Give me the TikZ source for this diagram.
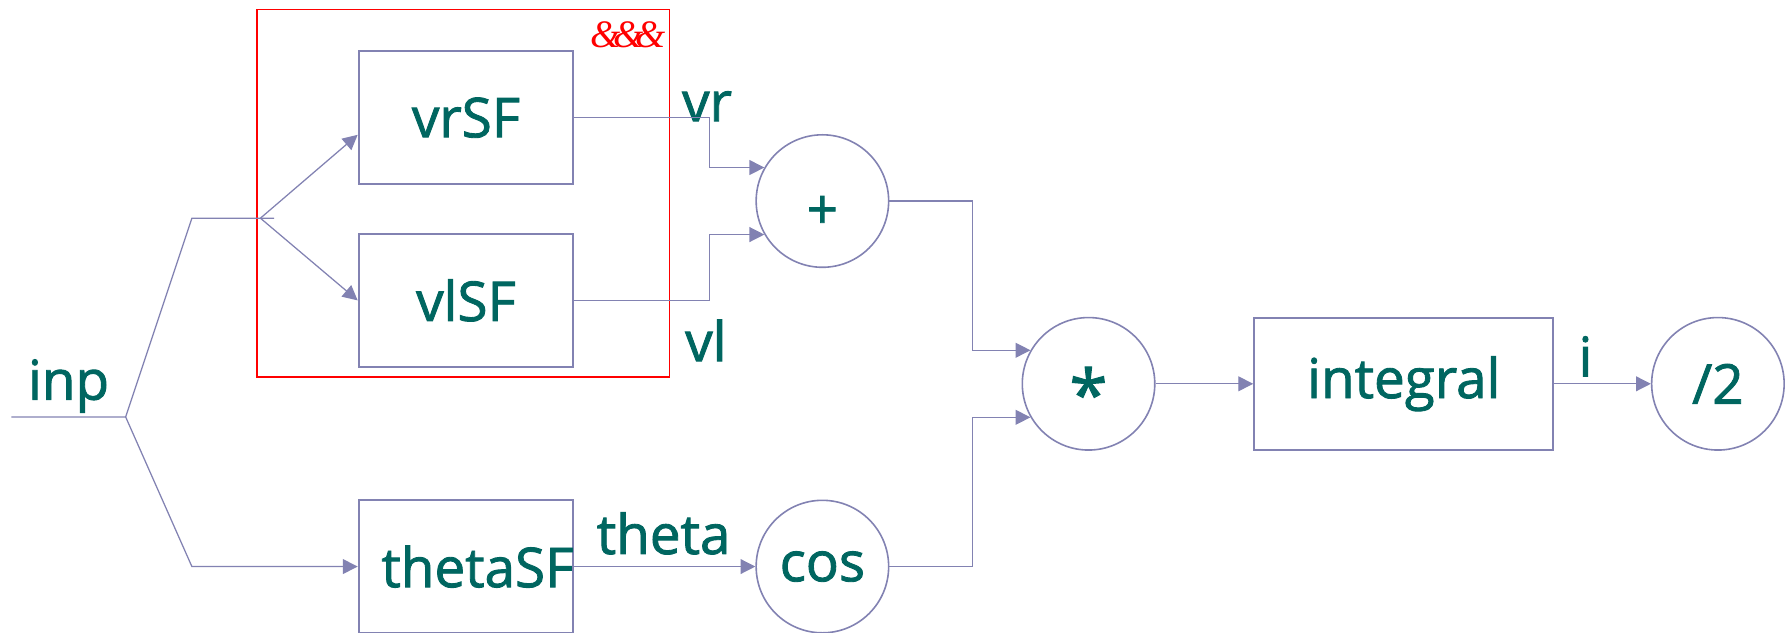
\documentclass[tikz,border=0pt]{standalone}
\usepackage{fontspec}
\setmainfont{Open Sans}[FakeBold=1.6]
\newfontfamily\ampfont{Liberation Serif}
\usetikzlibrary{arrows.meta,calc}
\definecolor{ln}{RGB}{130,130,178}
\definecolor{tx}{RGB}{0,102,96}
\begin{document}
\begin{tikzpicture}[x=0.5pt,y=-0.5pt,
  txt/.style={text=tx,font=\fontsize{24}{26}\selectfont},
  blk/.style={txt,draw=ln,line width=0.85pt,minimum width=94pt,minimum height=58pt,inner sep=0pt},
  wide/.style={blk,minimum width=131pt},
  op/.style={txt,draw=ln,line width=0.7pt,circle,minimum size=58pt,inner sep=0pt},
  lbl/.style={txt,inner sep=0pt},
  conn/.style={draw=ln,line width=0.55pt},
  arr/.style={conn,-{Triangle[length=6.5pt,width=6.5pt]}},
  grpbox/.style={draw=red,line width=0.5pt,minimum width=180.5pt,minimum height=161pt,inner sep=0pt}]
\clip (0,0) rectangle (1568,554);
\useasboundingbox (0,0) rectangle (1568,554);
% group
\node[grpbox] (grp) at (405.5,169) {};
\node[text=red,inner sep=0pt,font=\ampfont\itshape\fontsize{17}{19}\selectfont] (amp) at (550,30) {\&\kern-3.5pt\&\kern-3.5pt\&};
% blocks
\node[blk] (vrSF) at (408,103) {vrSF};
\node[blk] (vlSF) at (408,263) {vlSF};
\node[blk] (thetaSF) at (408,496) {\makebox[0pt]{\hspace*{10pt}thetaSF}};
\node[op] (plus) at (720,176) {};
\node[lbl] (plussign) at (720,186) {+};
\node[op] (cos) at (720,496) {cos};
\node[op] (mul) at (953,336) {};
\node[lbl,font=\fontsize{30}{30}\selectfont] (star) at (953,344) {*};
\node[wide] (integ) at (1229,336) {integral};
\node[op] (half) at (1504,336) {/2};
% labels
\node[lbl] (linp) at (60,338) {inp};
\node[lbl] (lvr) at (619,93) {vr};
\node[lbl] (lvl) at (618,298) {vl};
\node[lbl] (ltheta) at (581,467) {theta};
\node[lbl] (li) at (1388,312) {i};
% input split
\coordinate (in0) at (10,365);
\coordinate (j) at (110,365);
\coordinate (u) at (168,191);
\coordinate (uend) at (240,191);
\coordinate (s) at (228,191);
\coordinate (d) at (168,496);
\draw[conn] (in0) -- (j) -- (u) -- (uend);
\draw[arr] (j) -- (d) -- (thetaSF.west);
\draw[arr] (s) -- ($(vrSF.west)+(0,15)$);
\draw[arr] (s) -- (vlSF.west);
% to plus
\draw[arr] (vrSF.east) -- ++(118,0) |- (plus.150);
\draw[arr] (vlSF.east) -- ++(118,0) |- (plus.210);
% theta to cos
\draw[arr] (thetaSF.east) -- (cos.west);
% to mul
\draw[arr] (plus.east) -- ++(73,0) |- (mul.150);
\draw[arr] (cos.east) -- ++(73,0) |- (mul.210);
% chain
\draw[arr] (mul.east) -- (integ.west);
\draw[arr] (integ.east) -- (half.west);
\end{tikzpicture}
\end{document}
